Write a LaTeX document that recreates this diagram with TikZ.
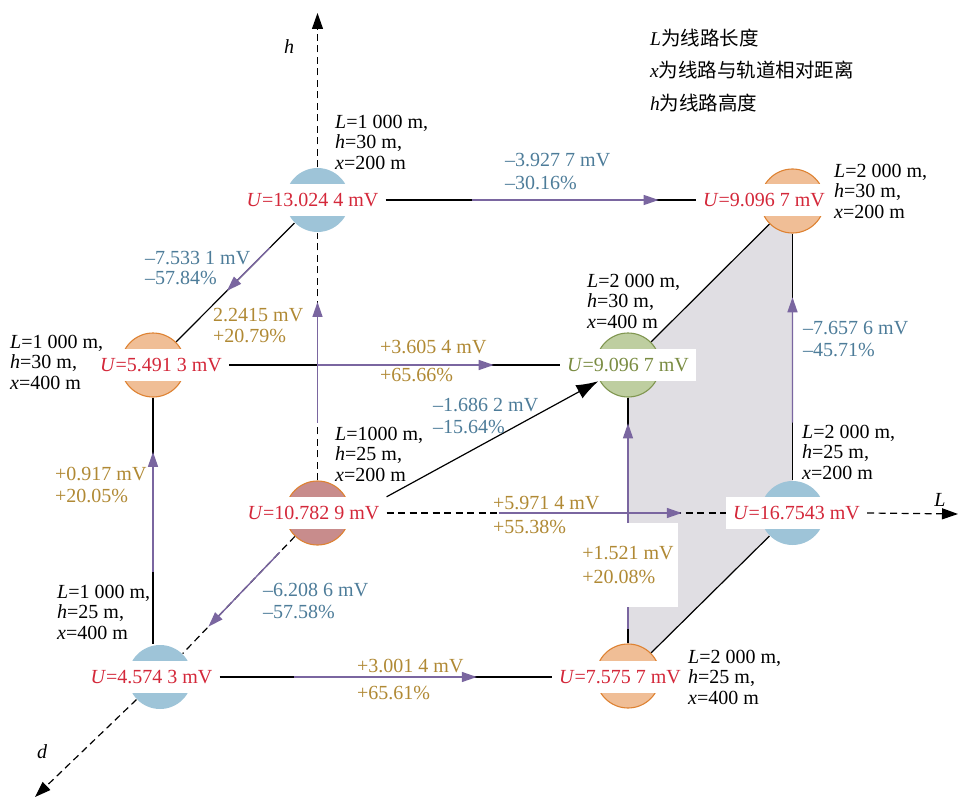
\documentclass[tikz,border=0pt]{standalone}
\usepackage{fontspec}
\setmainfont{Liberation Serif}
\newfontfamily\cjk{Noto Sans CJK SC}
\usetikzlibrary{arrows.meta,calc}

\definecolor{uRed}{RGB}{212,40,58}
\definecolor{dropBlue}{RGB}{77,124,153}
\definecolor{riseGold}{RGB}{176,137,52}
\definecolor{uGreen}{RGB}{122,140,66}
\definecolor{flowPurple}{RGB}{122,102,160}
\definecolor{ballBlue}{RGB}{158,196,216}
\definecolor{ballOrange}{RGB}{240,190,150}
\definecolor{rimOrange}{RGB}{222,130,50}
\definecolor{ballGreen}{RGB}{190,206,160}
\definecolor{rimGreen}{RGB}{128,150,80}
\definecolor{ballRose}{RGB}{200,140,140}
\definecolor{planeGray}{RGB}{224,222,227}

\pgfdeclarelayer{back}
\pgfsetlayers{back,main}

\begin{document}
\begin{tikzpicture}[x=1pt,y=-1pt,
  font=\fontsize{20}{20.5}\selectfont,
  ball/.style={circle, minimum size=64pt, inner sep=0pt, line width=1.1pt},
  blueball/.style={ball, fill=ballBlue},
  orangeball/.style={ball, fill=ballOrange, draw=rimOrange},
  greenball/.style={ball, fill=ballGreen, draw=rimGreen},
  roseball/.style={ball, fill=ballRose, draw=rimOrange},
  volt/.style={fill=white, text=uRed, inner xsep=7pt, inner ysep=0pt, minimum height=32pt},
  info/.style={align=left, inner sep=0pt, anchor=west},
  change/.style={align=left, inner sep=0pt, anchor=west, font=\fontsize{20}{#1}\selectfont},
  drop/.style={change=#1, text=dropBlue},
  rise/.style={change=#1, text=riseGold},
  link/.style={line width=1.2pt},
  axisline/.style={line width=1.2pt, dash pattern=on 7pt off 4.5pt},
  flow/.style={draw=flowPurple, line width=1.4pt, -{Triangle[length=15pt,width=10pt]}},
  axisarrow/.style={-{Triangle[length=16pt,width=11pt]}},
  axislabel/.style={inner sep=0pt, font=\fontsize{20}{20}\selectfont\itshape}
]
\useasboundingbox (0,0) rectangle (959,797);

% potential points (circles)
\node[blueball]   (Aball) at (317.5,200) {};
\node[orangeball] (Bball) at (792.5,201) {};
\node[orangeball] (Cball) at (153,365) {};
\node[greenball]  (Dball) at (628,365) {};
\node[roseball]   (Eball) at (317.5,513) {};
\node[blueball]   (Fball) at (792.5,513) {};
\node[blueball]   (Gball) at (160,677) {};
\node[orangeball] (Hball) at (628,676) {};

% voltage labels
\node[volt] (Alab) at (312.5,200) {\textit{U}=13.024 4 mV};
\node[volt] (Blab) at (764,200) {\textit{U}=9.096 7 mV};
\node[volt] (Clab) at (161,365) {\textit{U}=5.491 3 mV};
\node[volt, text=uGreen] (Dlab) at (628,365) {\textit{U}=9.096 7 mV};
\node[volt] (Elab) at (313.5,513) {\textit{U}=10.782 9 mV};
\node[volt] (Flab) at (796.5,513) {\textit{U}=16.7543 mV};
\node[volt] (Glab) at (151.5,677) {\textit{U}=4.574 3 mV};
\node[volt] (Hlab) at (620,677) {\textit{U}=7.575 7 mV};

% axis ends
\coordinate (hTip) at (317.5,13);
\coordinate (LTip) at (958,514);
\coordinate (dTip) at (35,797);
\coordinate (gTop) at (Cball.south |- Gball.north);

% line parameters
\node[info] (Ainfo) at (335,142) {\textit{L}=1 000 m,\\\textit{h}=30 m,\\\textit{x}=200 m};
\node[info] (Binfo) at (834,191) {\textit{L}=2 000 m,\\\textit{h}=30 m,\\\textit{x}=200 m};
\node[info] (Cinfo) at (10,362) {\textit{L}=1 000 m,\\\textit{h}=30 m,\\\textit{x}=400 m};
\node[info] (Dinfo) at (587,301) {\textit{L}=2 000 m,\\\textit{h}=30 m,\\\textit{x}=400 m};
\node[info] (Einfo) at (335,454) {\textit{L}=1000 m,\\\textit{h}=25 m,\\\textit{x}=200 m};
\node[info] (Finfo) at (802,452) {\textit{L}=2 000 m,\\\textit{h}=25 m,\\\textit{x}=200 m};
\node[info] (Ginfo) at (57,612) {\textit{L}=1 000 m,\\\textit{h}=25 m,\\\textit{x}=400 m};
\node[info] (Hinfo) at (688,677) {\textit{L}=2 000 m,\\\textit{h}=25 m,\\\textit{x}=400 m};

% voltage changes along each path
\node[drop=23] (ABchg) at (505,171.5) {–3.927 7 mV\\–30.16\%};
\node[drop=20] (ACchg) at (145,268) {–7.533 1 mV\\–57.84\%};
\node[rise=21] (EAchg) at (213,325.5) {2.2415 mV\\+20.79\%};
\node[rise=28] (CDchg) at (380,361) {+3.605 4 mV\\+65.66\%};
\node[drop=22] (EDchg) at (433,416) {–1.686 2 mV\\–15.64\%};
\node[drop=22] (FBchg) at (803,339) {–7.657 6 mV\\–45.71\%};
\node[rise=22] (GCchg) at (55,485) {+0.917 mV\\+20.05\%};
\node[rise=24] (EFchg) at (493,515) {+5.971 4 mV\\+55.38\%};
\node[drop=22] (EGchg) at (263,601) {–6.208 6 mV\\–57.58\%};
\node[rise=27] (GHchg) at (357,679.5) {+3.001 4 mV\\+65.61\%};
\node[rise=24, anchor=center, fill=white, minimum width=100pt, minimum height=84pt]
  (HDchg) at (628,565) {+1.521 mV\\+20.08\%};

% axis names
\node[axislabel] (hName) at (289,47) {h};
\node[axislabel] (LName) at (940,500) {L};
\node[axislabel] (dName) at (42,752) {d};

% legend
\node[info, font=\fontsize{19.5}{32.5}\selectfont] (legend) at (650,70.5)
  {\textit{L}{\cjk 为线路长度}\\\textit{x}{\cjk 为线路与轨道相对距离}\\\textit{h}{\cjk 为线路高度}};

\begin{pgfonlayer}{back}
  % shaded plane of the 2 000 m lines
  \fill[planeGray] (Dball.center) -- (Bball.center) -- (Fball.center) -- (Hball.center) -- cycle;

  % solid connections
  \draw[link] (Alab.east) -- (Blab.west);
  \draw[link] (Aball.225) -- (Cball.45);
  \draw[link] (Clab.east) -- (Dlab.west);
  \draw[link] (Dball.45) -- (Bball.225);
  \draw[link] (Fball.north) -- (Bball.south);
  \draw[link] (Hball.north) -- (Dball.south);
  \draw[link] (Fball.225) -- (Hball.45);
  \draw[link] (Glab.east) -- (Hlab.west);
  \draw[link] (Cball.south) -- (gTop);

  % axes through the 1 000 m, h=25 m, x=200 m point
  \draw[axisline] (Eball.north) -- (Aball.south);
  \draw[axisline, axisarrow] (Aball.north) -- (hTip);
  \draw[axisline] (Elab.east) -- (Flab.west);
  \draw[axisline, axisarrow] (Flab.east) -- (LTip);
  \draw[axisline] (Eball.226) -- (Gball.46);
  \draw[axisline, axisarrow] (Gball) -- (dTip);

  % diagonal change arrow
  \draw[link, -{Latex[length=22pt,width=15pt]}] (Elab.north east) -- (Dlab);

  % direction of each change
  \draw[flow] ($(Alab.east)!0.28!(Blab.west)$) -- ($(Alab.east)!0.88!(Blab.west)$);
  \draw[flow] ($(Clab.east)!0.27!(Dlab.west)$) -- ($(Clab.east)!0.80!(Dlab.west)$);
  \draw[flow] ($(Glab.east)!0.225!(Hlab.west)$) -- ($(Glab.east)!0.774!(Hlab.west)$);
  \draw[flow] ($(Elab.east)!0.33!(Flab.west)$) -- ($(Elab.east)!0.87!(Flab.west)$);
  \draw[flow] ($(Cball.south)!0.705!(gTop)$) -- ($(Cball.south)!0.22!(gTop)$);
  \draw[flow] ($(Eball.north)!0.233!(Aball.south)$) -- ($(Eball.north)!0.72!(Aball.south)$);
  \draw[flow] ($(Hball.north)!0.057!(Dball.south)$) -- ($(Hball.north)!0.895!(Dball.south)$);
  \draw[flow] ($(Fball.north)!0.234!(Bball.south)$) -- ($(Fball.north)!0.742!(Bball.south)$);
  \draw[flow] ($(Aball.225)!0.21!(Cball.45)$) -- ($(Aball.225)!0.57!(Cball.45)$);
  \draw[flow] ($(Eball.226)!0.135!(Gball.46)$) -- ($(Eball.226)!0.77!(Gball.46)$);
\end{pgfonlayer}
\end{tikzpicture}
\end{document}
